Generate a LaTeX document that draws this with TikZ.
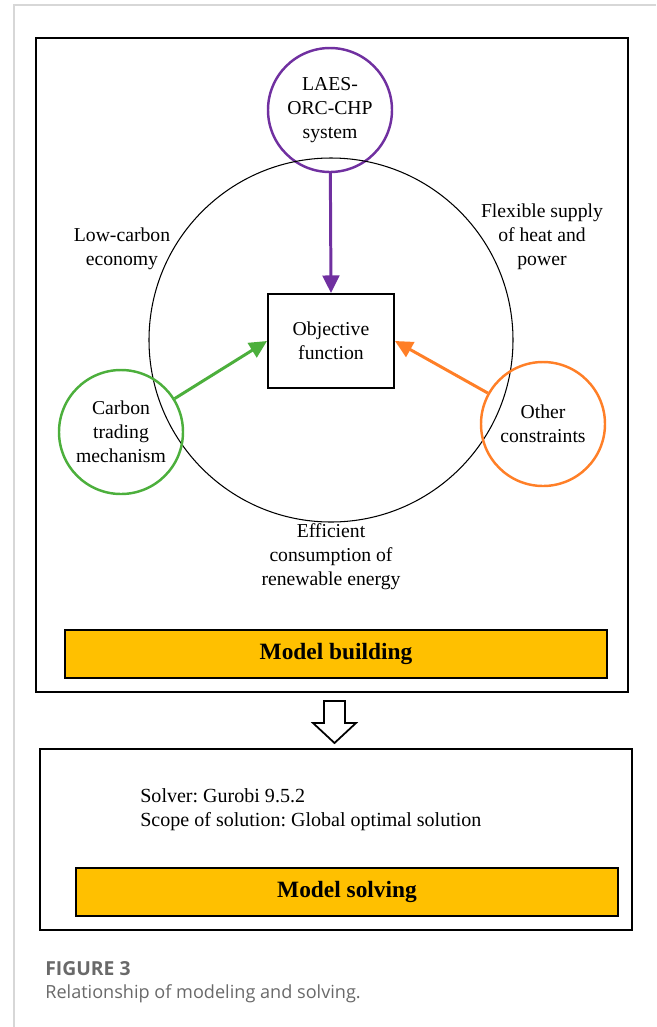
\documentclass[tikz,border=0pt]{standalone}
\usepackage{fontspec}
\setmainfont{Liberation Serif}
\newfontfamily\capfont{Open Sans}
\usetikzlibrary{backgrounds,arrows.meta}
\pgfdeclarelayer{edgelayer}
\pgfdeclarelayer{nodelayer}
\pgfsetlayers{edgelayer,nodelayer,main}
\definecolor{ringpurple}{RGB}{112,48,160}
\definecolor{ringgreen}{RGB}{76,175,60}
\definecolor{ringorange}{RGB}{255,127,39}
\definecolor{bargold}{RGB}{255,192,0}
\definecolor{framegray}{RGB}{215,215,215}
\definecolor{capgray}{RGB}{105,105,105}
\frenchspacing
\tikzset{font=\fontsize{11.2}{13.6}\selectfont}
\tikzstyle{none}=[inner sep=0pt]
\tikzstyle{txt}=[inner sep=0pt, align=center]
\tikzstyle{ring}=[circle, draw, line width=1.4pt, minimum size=2.48cm, inner sep=0pt, align=center]
\tikzstyle{bigring}=[circle, draw, line width=0.6pt, minimum size=7.28cm, inner sep=0pt]
\tikzstyle{objbox}=[rectangle, draw, line width=1.1pt, minimum width=2.52cm, minimum height=1.88cm, align=center]
\tikzstyle{bar}=[rectangle, draw, fill=bargold, line width=1.1pt, minimum width=10.84cm, minimum height=0.96cm, font=\fontsize{13.3}{16}\selectfont\bfseries]
\tikzstyle{feed}=[-{Triangle[length=10pt,width=9.5pt]}, line width=1.7pt]
\tikzstyle{caption}=[inner sep=0pt, anchor=west, text=capgray]

\begin{document}
\begin{tikzpicture}
	\useasboundingbox (0, 0) rectangle (13.12, -20.54);
	\begin{pgfonlayer}{nodelayer}
		\node [style=ring, ringpurple, text=black] (0) at (6.6, -2.2) {LAES-\\ORC-CHP\\system};
		\node [style=bigring] (1) at (6.62, -6.8) {};
		\node [style=objbox] (2) at (6.62, -6.82) {Objective\\function};
		\node [style=ring, ringgreen, text=black] (3) at (2.42, -8.64) {Carbon\\trading\\mechanism};
		\node [style=ring, ringorange, text=black] (4) at (10.86, -8.48) {Other\\constraints};
		\node [style=txt] (5) at (2.44, -4.98) {Low-carbon\\economy};
		\node [style=txt] (6) at (10.84, -4.74) {Flexible supply\\of heat and\\power};
		\node [style=txt] (7) at (6.62, -11.14) {Efficient\\consumption of\\renewable energy};
		\node [style=bar] (8) at (6.72, -13.08) {Model building};
		\node [style=txt, anchor=west, align=left, font=\fontsize{11.4}{13.6}\selectfont] (9) at (2.8, -16.2) {Solver: Gurobi 9.5.2\\Scope of solution: Global optimal solution};
		\node [style=bar] (10) at (6.94, -17.84) {Model solving};
		\node [style=caption, font=\capfont\fontsize{11}{13}\selectfont\bfseries] (11) at (0.9, -19.38) {FIGURE 3};
		\node [style=caption, font=\capfont\fontsize{10.3}{12}\selectfont] (12) at (0.9, -19.88) {Relationship of modeling and solving.};
	\end{pgfonlayer}
	\begin{pgfonlayer}{edgelayer}
		\draw [framegray, line width=0.8pt] (0.28, -20.54) -- (0.28, -0.1) -- (13.12, -0.1);
		\draw [line width=0.6pt] (0.72, -0.76) rectangle (12.56, -13.84);
		\draw [line width=0.6pt] (0.8, -14.98) rectangle (12.64, -18.6);
		\draw [line width=1pt, line join=miter] (6.48, -14.02) -- (6.9, -14.02) -- (6.9, -14.46) -- (7.12, -14.46) -- (6.69, -14.86) -- (6.26, -14.46) -- (6.48, -14.46) -- cycle;
		\draw [style=feed, ringpurple] (0) to (2.north);
		\draw [style=feed, ringgreen] (3) to (2.west);
		\draw [style=feed, ringorange] (4) to (2.east);
	\end{pgfonlayer}
\end{tikzpicture}
\end{document}
